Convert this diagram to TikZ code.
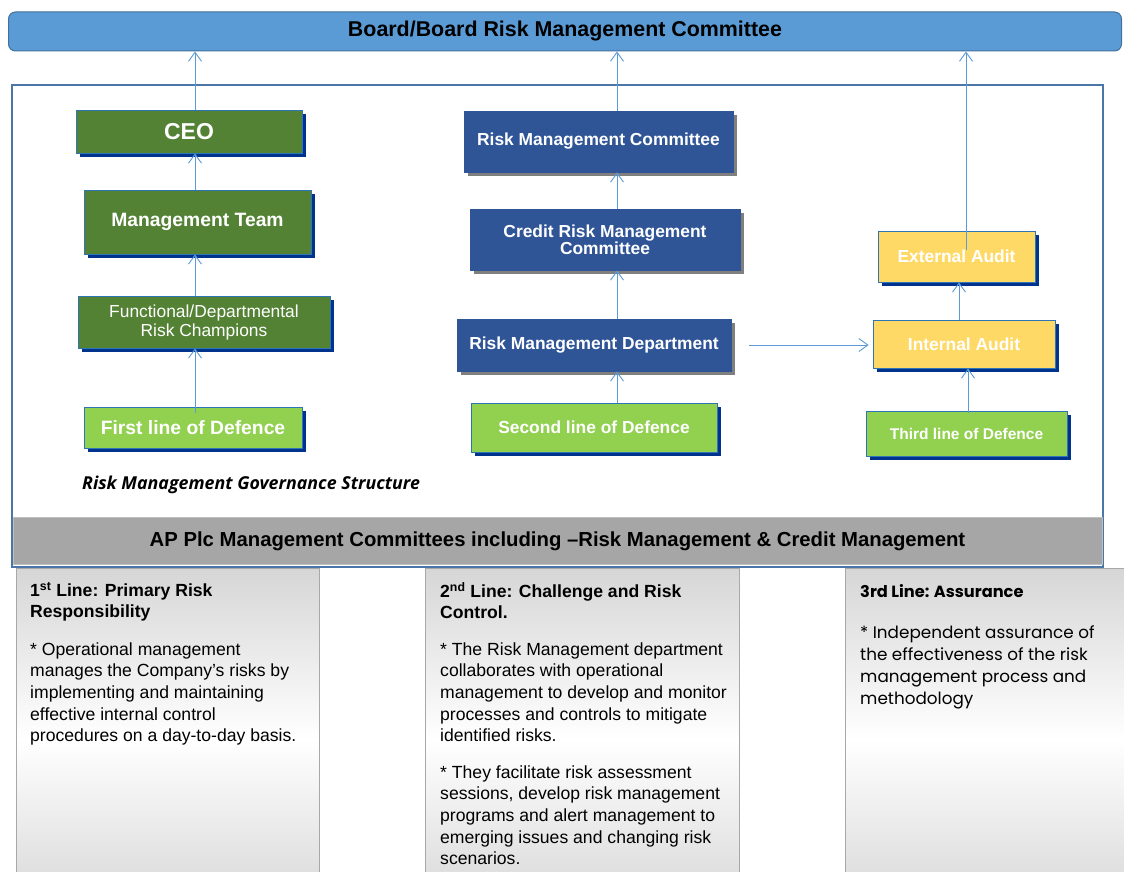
\documentclass[tikz,border=0pt]{standalone}
\usepackage{fontspec}
\setmainfont{Liberation Sans}
\newfontfamily\gothic{Poppins}
\newfontfamily\govfont{Open Sans}
\usetikzlibrary{shadows,arrows.meta}
\definecolor{boardfill}{HTML}{5B9BD5}
\definecolor{boardline}{HTML}{41719C}
\definecolor{dkgreen}{HTML}{548235}
\definecolor{ltgreen}{HTML}{92D050}
\definecolor{navyfill}{HTML}{2F5597}
\definecolor{shblue}{HTML}{00338D}
\definecolor{shgray}{HTML}{7F7F7F}
\definecolor{yelfill}{HTML}{FFD966}
\definecolor{edgeblue}{HTML}{2E75B6}
\definecolor{arrowblue}{HTML}{5B9BD5}
\definecolor{bandfill}{HTML}{A6A6A6}
\definecolor{bandline}{HTML}{BFBFBF}
\definecolor{framecol}{HTML}{4A76A8}
\definecolor{panelgray}{HTML}{D6D6D6}
\definecolor{panelline}{HTML}{A8A8A8}
\begin{document}
\begin{tikzpicture}[x=1pt,y=-1pt,
  ndbox/.style={rectangle, inner sep=0pt, align=center, text=white, draw=edgeblue, line width=0.8pt},
  bshadow/.style={drop shadow={shadow xshift=4pt,shadow yshift=-4pt,fill=shblue,opacity=1}},
  gshadow/.style={drop shadow={shadow xshift=4pt,shadow yshift=-4pt,fill=shgray,opacity=1}},
  greenbox/.style={ndbox, fill=dkgreen, bshadow},
  linebox/.style={ndbox, fill=ltgreen, bshadow},
  navybox/.style={ndbox, fill=navyfill, draw=navyfill, gshadow, font=\bfseries\fontsize{17.4}{16}\selectfont},
  audbox/.style={ndbox, fill=yelfill, bshadow, font=\bfseries\fontsize{17.4}{16}\selectfont},
  arr/.style={draw=arrowblue, line width=0.9pt, -{Straight Barb[length=9pt,width=13pt]}},
  panel/.style={draw=panelline, line width=1pt, top color=panelgray, bottom color=panelgray, middle color=white},
  ptitle/.style={anchor=north west, inner sep=0pt, align=left, font=\bfseries\fontsize{17.6}{21}\selectfont},
  pbody/.style={anchor=north west, inner sep=0pt, align=left, font=\fontsize{17.6}{21.6}\selectfont},
]
\useasboundingbox (0,0) rectangle (1124,872);
\clip (0,0) rectangle (1124,872);
\fill[white] (0,0) rectangle (1124,872);

% frame and band
\draw[framecol, line width=1.8pt] (12,85) rectangle (1103,567);
\node[fill=bandfill, draw=bandline, line width=1pt, minimum width=1089pt, minimum height=47pt, inner sep=0pt,
  font=\bfseries\fontsize{20.3}{24}\selectfont] (band) at (557.5,541) {AP Plc Management Committees including –Risk Management \& Credit Management};

% panels
\path[panel] (16,568) rectangle (319,912);
\path[panel] (425,568) rectangle (739,912);
\path[panel] (845,568) rectangle (1126,912);

% board
\node[draw=boardline, fill=boardfill, line width=1pt, rounded corners=7pt, minimum width=1113pt, minimum height=39pt, inner sep=0pt,
  font=\bfseries\fontsize{21.4}{24}\selectfont] (board) at (565,31.5) {Board/Board Risk Management Committee};

% left column
\node[greenbox, minimum width=226pt, minimum height=43pt, font=\bfseries\fontsize{23}{24}\selectfont] (ceo) at (189,131.5) {CEO};
\node[greenbox, minimum width=227pt, minimum height=64pt, font=\bfseries\fontsize{19.3}{22}\selectfont] (mt) at (197.5,222) {Management Team};
\node[greenbox, minimum width=252pt, minimum height=52pt, font=\fontsize{17.4}{19}\selectfont] (func) at (204,322) {Functional/Departmental\\Risk Champions};
\node[linebox, minimum width=218pt, minimum height=41pt, font=\bfseries\fontsize{19.3}{22}\selectfont] (first) at (193,427.5) {First line of Defence};

% middle column
\node[navybox, minimum width=269pt, minimum height=61pt] (rmc) at (598.5,141.5) {Risk Management Committee};
\node[navybox, minimum width=270pt, minimum height=61pt] (crmc) at (605,239.5) {Credit Risk Management\\Committee};
\node[navybox, minimum width=274pt, minimum height=52pt] (rmd) at (594,345) {Risk Management Department};
\node[linebox, minimum width=246pt, minimum height=49pt, font=\bfseries\fontsize{17.4}{20}\selectfont] (second) at (594,427.5) {Second line of Defence};

% right column
\node[audbox, minimum width=157pt, minimum height=51pt] (ext) at (956.5,256.5) {External Audit};
\node[audbox, minimum width=182pt, minimum height=48pt] (int) at (964,344) {Internal Audit};
\node[linebox, minimum width=201pt, minimum height=45pt, font=\bfseries\fontsize{15.5}{18}\selectfont] (third) at (966.5,433.5) {Third line of Defence};

% arrows
\coordinate (colA) at (195,0);
\coordinate (colB) at (617,0);
\coordinate (colC) at (966,0);
\coordinate (colD) at (959,0);
\coordinate (colE) at (968,0);
\coordinate (a1) at ([yshift=-6pt]first.north);
\coordinate (e1) at ([yshift=-19pt]ext.north);
\coordinate (t1) at ([yshift=-2pt]third.north);
\coordinate (h1) at ([xshift=18pt]rmd.east);
\coordinate (h2) at ([xshift=-4pt]int.west);

\draw[arr] (ceo.north -| colA) -- (board.south -| colA);
\draw[arr] (mt.north -| colA) -- (ceo.south -| colA);
\draw[arr] (func.north -| colA) -- (mt.south -| colA);
\draw[arr] (a1 -| colA) -- (func.south -| colA);

\draw[arr] (rmc.north -| colB) -- (board.south -| colB);
\draw[arr] (crmc.north -| colB) -- (rmc.south -| colB);
\draw[arr] (rmd.north -| colB) -- (crmc.south -| colB);
\draw[arr] (second.north -| colB) -- (rmd.south -| colB);

\draw[arr] (e1 -| colC) -- (board.south -| colC);
\draw[arr] (int.north -| colD) -- (ext.south -| colD);
\draw[arr] (t1 -| colE) -- (int.south -| colE);
\draw[arr] (h1) -- (h2 |- h1);

% caption
\node[anchor=base west, inner sep=0pt, font=\govfont\bfseries\itshape\fontsize{17.8}{20}\selectfont] (gov) at (82,489) {Risk Management Governance Structure};

% panel texts
\node[ptitle] (t1title) at (30,582.4) {1\textsuperscript{st} Line: Primary Risk\\Responsibility};
\node[pbody] (t1body) at (30,642.4) {* Operational management\\manages the Company’s risks by\\implementing and maintaining\\effective internal control\\procedures on a day-to-day basis.};
\node[ptitle] (t2title) at (440,582.4) {2\textsuperscript{nd} Line: Challenge and Risk\\Control.};
\node[pbody] (t2body) at (440,642.4) {* The Risk Management department\\collaborates with operational\\management to develop and monitor\\processes and controls to mitigate\\identified risks.};
\node[pbody] (t2body2) at (440,765.4) {* They facilitate risk assessment\\sessions, develop risk management\\programs and alert management to\\emerging issues and changing risk\\scenarios.};
\node[anchor=north west, inner sep=0pt, align=left, font=\gothic\bfseries\fontsize{16.2}{20}\selectfont] (t3title) at (860,584.5) {3rd Line: Assurance};
\node[anchor=north west, inner sep=0pt, align=left, font=\gothic\fontsize{16.8}{22.3}\selectfont] (t3body) at (860,625) {* Independent assurance of\\the effectiveness of the risk\\management process and\\methodology};
\end{tikzpicture}
\end{document}
